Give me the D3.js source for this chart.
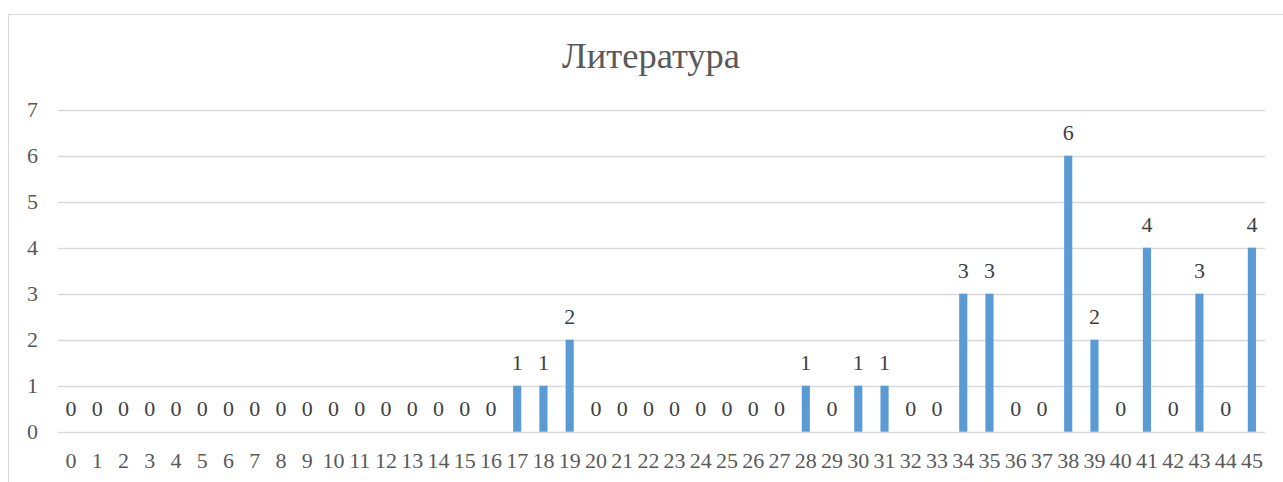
<!DOCTYPE html>
<html>
<head>
<meta charset="utf-8">
<script src="https://cdn.jsdelivr.net/npm/d3@7"></script>
<style>
  html, body { margin: 0; padding: 0; background: #fff; }
  svg { display: block; }
</style>
</head>
<body>
<div id="chart"></div>
<script>
// Данные диаграммы
const title = 'Литература';
const categories = d3.range(46).map(String); // 0..45 tick labels
const values = [0,0,0,0,0,0,0,0,0,0,0,0,0,0,0,0,0,1,1,2,0,0,0,0,0,0,0,0,1,0,1,1,0,0,3,3,0,0,6,2,0,4,0,3,0,4];
const yTicks = [0,1,2,3,4,5,6,7];

const W = 1283, H = 482;
const FONT = "'Liberation Serif'";
const TXT = '#595959';
const GRID = '#d9d9d9';
const BAR = '#5b9bd5';

const svg = d3.select('#chart').append('svg')
  .attr('width', W).attr('height', H);

// chart area border (right/bottom run off the window)
svg.append('rect')
  .attr('x', 8.5).attr('y', 14.5).attr('width', W + 20).attr('height', H + 20)
  .attr('fill', '#fff').attr('stroke', GRID).attr('stroke-width', 1);

const plot = { left: 58, right: 1265, top: 109.7, bottom: 431.7 };

const x = d3.scaleBand()
  .domain(categories)
  .range([plot.left, plot.right])
  .paddingInner(0.69).paddingOuter(0.345);

const y = d3.scaleLinear()
  .domain([0, 7])
  .range([plot.bottom, plot.top]);

// title
svg.append('text').text(title)
  .attr('x', 651).attr('y', 68)
  .attr('text-anchor', 'middle')
  .attr('fill', TXT).attr('font-size', 36.5).style('font-family', FONT);

// gridlines
svg.append('g').selectAll('line').data(yTicks).join('line')
  .attr('x1', plot.left).attr('x2', plot.right)
  .attr('y1', d => Math.round(y(d)) + 0.5).attr('y2', d => Math.round(y(d)) + 0.5)
  .attr('stroke', GRID).attr('stroke-width', 1.3);

// y axis labels
const yAxis = svg.append('g')
  .attr('transform', `translate(${plot.left - 20},0)`)
  .call(d3.axisLeft(y).tickValues(yTicks).tickFormat(d3.format('d')).tickSize(0).tickPadding(0));
yAxis.select('.domain').remove();
yAxis.attr('font-family', null).attr('font-size', null);
yAxis.selectAll('text')
  .attr('fill', TXT).attr('font-size', 22).style('font-family', FONT)
  .attr('dy', '0.3em');

// x axis labels
const xAxis = svg.append('g')
  .attr('transform', `translate(0,${plot.bottom})`)
  .call(d3.axisBottom(x).tickSize(0).tickPadding(0));
xAxis.select('.domain').remove();
xAxis.attr('font-family', null).attr('font-size', null);
xAxis.selectAll('text')
  .attr('fill', TXT).attr('font-size', 22).style('font-family', FONT)
  .attr('dy', null).attr('y', 36);

// bars
svg.append('g').selectAll('rect').data(values).join('rect')
  .attr('x', (d, i) => x(categories[i]))
  .attr('width', x.bandwidth())
  .attr('y', d => y(d))
  .attr('height', d => y(0) - y(d))
  .attr('fill', BAR);

// data labels
svg.append('g').selectAll('text').data(values).join('text')
  .text(d => d)
  .attr('x', (d, i) => x(categories[i]) + x.bandwidth() / 2)
  .attr('y', d => y(d) - 16)
  .attr('text-anchor', 'middle')
  .attr('fill', '#404040').attr('font-size', 22).style('font-family', FONT);
</script>
</body>
</html>
